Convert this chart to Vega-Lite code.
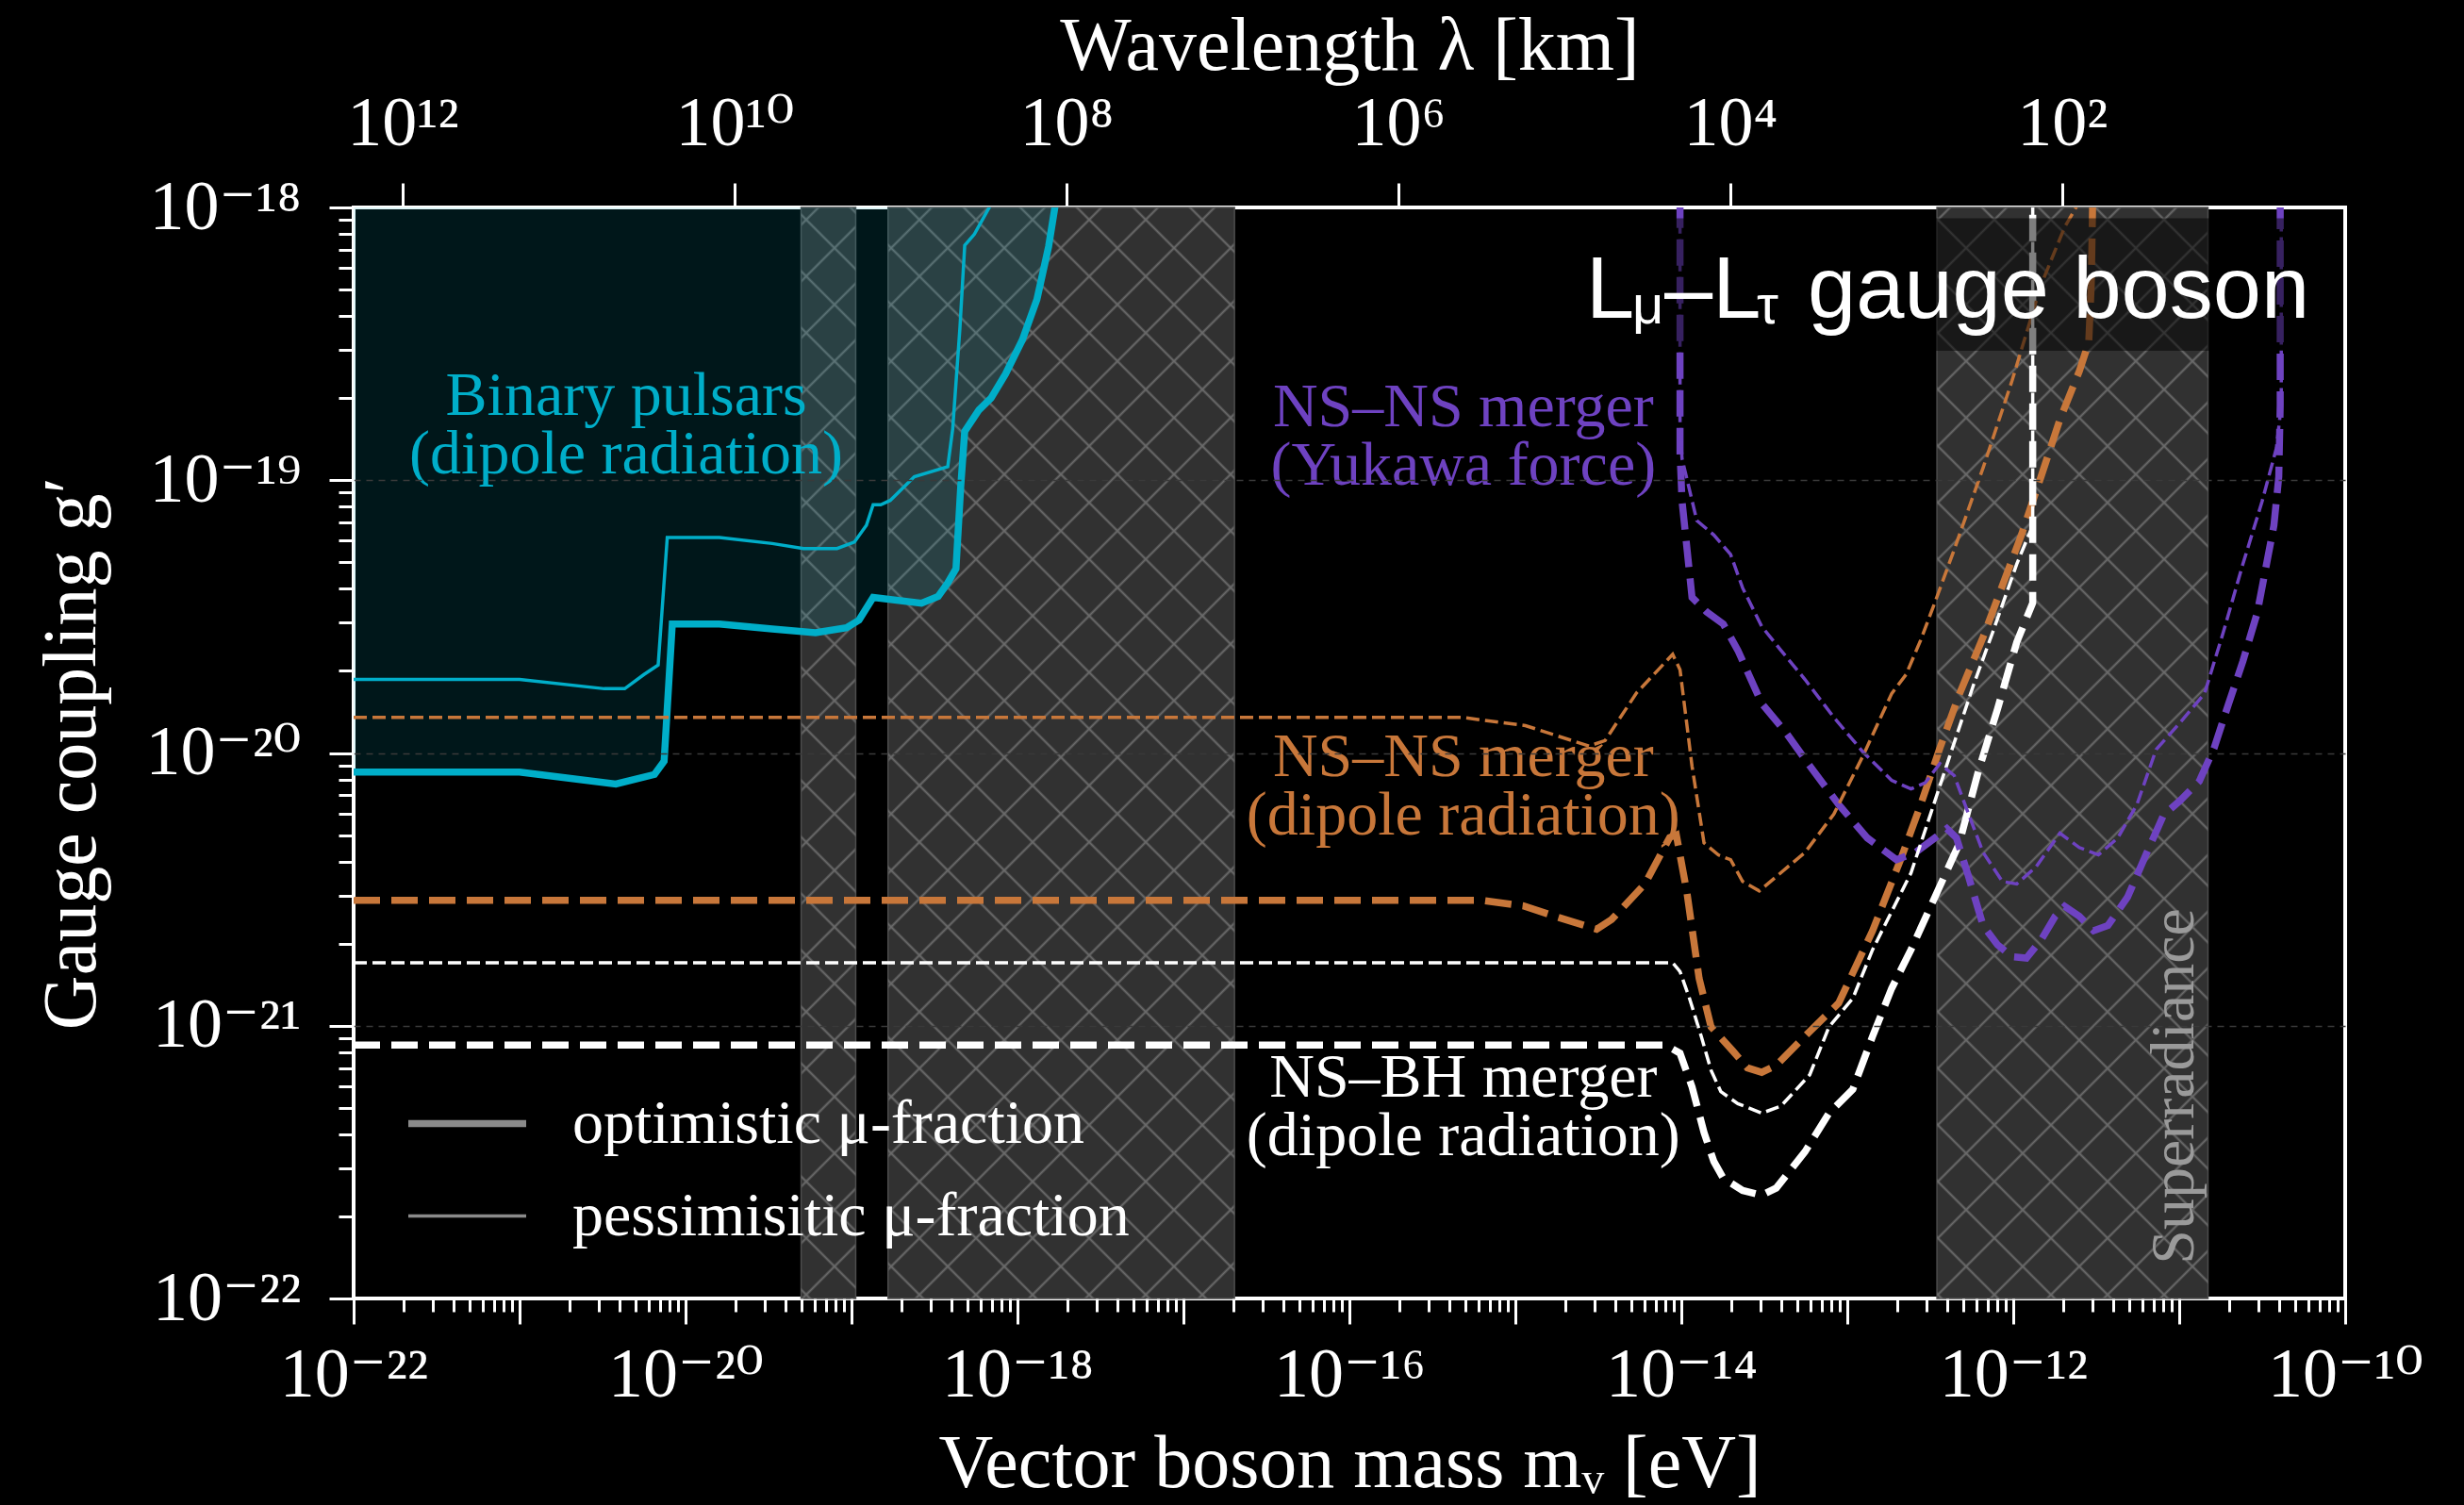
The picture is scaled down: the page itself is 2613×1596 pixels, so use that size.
{
  "$schema": "https://vega.github.io/schema/vega-lite/v6.json",
  "width": 2112,
  "height": 1157,
  "autosize": {"type": "none"},
  "padding": {"left": 375, "top": 220, "right": 126, "bottom": 219},
  "background": "#000000",
  "config": {
    "view": {"stroke": "#ffffff", "strokeWidth": 4},
    "axis": {"labelFont": "Liberation Serif, DejaVu Serif", "titleFont": "Liberation Serif", "labelColor": "#ffffff", "titleColor": "#ffffff", "tickColor": "#ffffff", "tickWidth": 3, "titleFontWeight": "normal", "domain": false, "gridColor": "#3a3a3a", "gridDash": [7, 6], "gridWidth": 1.5, "labelFlush": false, "labelOverlap": false, "labelFontSize": 74, "titleFontSize": 80},
    "legend": {"orient": "bottom-left", "offset": 54, "padding": 0, "labelFont": "Liberation Serif", "labelFontSize": 66, "labelColor": "#ffffff", "labelLimit": 2000, "symbolType": "stroke", "symbolSize": 15625, "symbolOffset": 0, "labelOffset": 45, "rowPadding": -100},
    "text": {"font": "Liberation Serif"}
  },
  "datasets": {
    "lines": [
      {"family": "pulsar", "fraction": "optimistic", "m": 1e-22, "g": 8.51e-21},
      {"family": "pulsar", "fraction": "optimistic", "m": 1e-21, "g": 8.51e-21},
      {"family": "pulsar", "fraction": "optimistic", "m": 3.80e-21, "g": 7.69e-21},
      {"family": "pulsar", "fraction": "optimistic", "m": 6.50e-21, "g": 8.34e-21},
      {"family": "pulsar", "fraction": "optimistic", "m": 7.43e-21, "g": 9.33e-21},
      {"family": "pulsar", "fraction": "optimistic", "m": 8.32e-21, "g": 2.97e-20},
      {"family": "pulsar", "fraction": "optimistic", "m": 1.60e-20, "g": 2.97e-20},
      {"family": "pulsar", "fraction": "optimistic", "m": 3.33e-20, "g": 2.85e-20},
      {"family": "pulsar", "fraction": "optimistic", "m": 6.07e-20, "g": 2.76e-20},
      {"family": "pulsar", "fraction": "optimistic", "m": 9.33e-20, "g": 2.88e-20},
      {"family": "pulsar", "fraction": "optimistic", "m": 1.11e-19, "g": 3.07e-20},
      {"family": "pulsar", "fraction": "optimistic", "m": 1.35e-19, "g": 3.72e-20},
      {"family": "pulsar", "fraction": "optimistic", "m": 2.64e-19, "g": 3.54e-20},
      {"family": "pulsar", "fraction": "optimistic", "m": 3.33e-19, "g": 3.75e-20},
      {"family": "pulsar", "fraction": "optimistic", "m": 3.80e-19, "g": 4.20e-20},
      {"family": "pulsar", "fraction": "optimistic", "m": 4.26e-19, "g": 4.74e-20},
      {"family": "pulsar", "fraction": "optimistic", "m": 4.55e-19, "g": 9.46e-20},
      {"family": "pulsar", "fraction": "optimistic", "m": 4.81e-19, "g": 1.51e-19},
      {"family": "pulsar", "fraction": "optimistic", "m": 5.86e-19, "g": 1.81e-19},
      {"family": "pulsar", "fraction": "optimistic", "m": 6.93e-19, "g": 2.00e-19},
      {"family": "pulsar", "fraction": "optimistic", "m": 8.47e-19, "g": 2.45e-19},
      {"family": "pulsar", "fraction": "optimistic", "m": 1.07e-18, "g": 3.27e-19},
      {"family": "pulsar", "fraction": "optimistic", "m": 1.31e-18, "g": 4.60e-19},
      {"family": "pulsar", "fraction": "optimistic", "m": 1.54e-18, "g": 7.19e-19},
      {"family": "pulsar", "fraction": "optimistic", "m": 1.68e-18, "g": 1.00e-18},
      {"family": "pulsar", "fraction": "optimistic", "m": 1.75e-18, "g": 1.10e-18},

      {"family": "pulsar", "fraction": "pessimistic", "m": 1e-22, "g": 1.86e-20},
      {"family": "pulsar", "fraction": "pessimistic", "m": 1e-21, "g": 1.86e-20},
      {"family": "pulsar", "fraction": "pessimistic", "m": 3.24e-21, "g": 1.72e-20},
      {"family": "pulsar", "fraction": "pessimistic", "m": 4.30e-21, "g": 1.72e-20},
      {"family": "pulsar", "fraction": "pessimistic", "m": 5.62e-21, "g": 1.94e-20},
      {"family": "pulsar", "fraction": "pessimistic", "m": 6.84e-21, "g": 2.10e-20},
      {"family": "pulsar", "fraction": "pessimistic", "m": 7.76e-21, "g": 6.17e-20},
      {"family": "pulsar", "fraction": "pessimistic", "m": 1.60e-20, "g": 6.17e-20},
      {"family": "pulsar", "fraction": "pessimistic", "m": 3.33e-20, "g": 5.86e-20},
      {"family": "pulsar", "fraction": "pessimistic", "m": 5.14e-20, "g": 5.62e-20},
      {"family": "pulsar", "fraction": "pessimistic", "m": 8.18e-20, "g": 5.62e-20},
      {"family": "pulsar", "fraction": "pessimistic", "m": 1.04e-19, "g": 5.93e-20},
      {"family": "pulsar", "fraction": "pessimistic", "m": 1.23e-19, "g": 6.84e-20},
      {"family": "pulsar", "fraction": "pessimistic", "m": 1.35e-19, "g": 8.13e-20},
      {"family": "pulsar", "fraction": "pessimistic", "m": 1.50e-19, "g": 8.13e-20},
      {"family": "pulsar", "fraction": "pessimistic", "m": 1.71e-19, "g": 8.43e-20},
      {"family": "pulsar", "fraction": "pessimistic", "m": 2.39e-19, "g": 1.03e-19},
      {"family": "pulsar", "fraction": "pessimistic", "m": 3.80e-19, "g": 1.12e-19},
      {"family": "pulsar", "fraction": "pessimistic", "m": 4.07e-19, "g": 1.54e-19},
      {"family": "pulsar", "fraction": "pessimistic", "m": 4.50e-19, "g": 3.61e-19},
      {"family": "pulsar", "fraction": "pessimistic", "m": 4.81e-19, "g": 7.26e-19},
      {"family": "pulsar", "fraction": "pessimistic", "m": 5.50e-19, "g": 7.98e-19},
      {"family": "pulsar", "fraction": "pessimistic", "m": 6.76e-19, "g": 1.00e-18},
      {"family": "pulsar", "fraction": "pessimistic", "m": 7.20e-19, "g": 1.10e-18},

      {"family": "nsns", "fraction": "optimistic", "m": 1e-22, "g": 2.88e-21},
      {"family": "nsns", "fraction": "optimistic", "m": 6.31e-16, "g": 2.88e-21},
      {"family": "nsns", "fraction": "optimistic", "m": 1.12e-15, "g": 2.75e-21},
      {"family": "nsns", "fraction": "optimistic", "m": 1.80e-15, "g": 2.50e-21},
      {"family": "nsns", "fraction": "optimistic", "m": 3.09e-15, "g": 2.26e-21},
      {"family": "nsns", "fraction": "optimistic", "m": 3.80e-15, "g": 2.45e-21},
      {"family": "nsns", "fraction": "optimistic", "m": 6.03e-15, "g": 3.31e-21},
      {"family": "nsns", "fraction": "optimistic", "m": 8.51e-15, "g": 4.90e-21},
      {"family": "nsns", "fraction": "optimistic", "m": 9.33e-15, "g": 5.01e-21},
      {"family": "nsns", "fraction": "optimistic", "m": 1.08e-14, "g": 3.09e-21},
      {"family": "nsns", "fraction": "optimistic", "m": 1.28e-14, "g": 1.49e-21},
      {"family": "nsns", "fraction": "optimistic", "m": 1.51e-14, "g": 9.91e-22},
      {"family": "nsns", "fraction": "optimistic", "m": 2.04e-14, "g": 8.09e-22},
      {"family": "nsns", "fraction": "optimistic", "m": 2.50e-14, "g": 7.01e-22},
      {"family": "nsns", "fraction": "optimistic", "m": 3.05e-14, "g": 6.75e-22},
      {"family": "nsns", "fraction": "optimistic", "m": 3.73e-14, "g": 7.16e-22},
      {"family": "nsns", "fraction": "optimistic", "m": 5.94e-14, "g": 9.53e-22},
      {"family": "nsns", "fraction": "optimistic", "m": 8.87e-14, "g": 1.21e-21},
      {"family": "nsns", "fraction": "optimistic", "m": 1.42e-13, "g": 2.23e-21},
      {"family": "nsns", "fraction": "optimistic", "m": 2.11e-13, "g": 4.11e-21},
      {"family": "nsns", "fraction": "optimistic", "m": 2.76e-13, "g": 6.43e-21},
      {"family": "nsns", "fraction": "optimistic", "m": 3.61e-13, "g": 1.04e-20},
      {"family": "nsns", "fraction": "optimistic", "m": 4.71e-13, "g": 1.63e-20},
      {"family": "nsns", "fraction": "optimistic", "m": 6.58e-13, "g": 2.66e-20},
      {"family": "nsns", "fraction": "optimistic", "m": 1.12e-12, "g": 6.30e-20},
      {"family": "nsns", "fraction": "optimistic", "m": 1.47e-12, "g": 1.03e-19},
      {"family": "nsns", "fraction": "optimistic", "m": 1.91e-12, "g": 1.67e-19},
      {"family": "nsns", "fraction": "optimistic", "m": 2.50e-12, "g": 2.51e-19},
      {"family": "nsns", "fraction": "optimistic", "m": 2.85e-12, "g": 3.20e-19},
      {"family": "nsns", "fraction": "optimistic", "m": 2.95e-12, "g": 5.20e-19},
      {"family": "nsns", "fraction": "optimistic", "m": 3.01e-12, "g": 1.05e-18},

      {"family": "nsns", "fraction": "pessimistic", "m": 1e-22, "g": 1.35e-20},
      {"family": "nsns", "fraction": "pessimistic", "m": 4.79e-16, "g": 1.35e-20},
      {"family": "nsns", "fraction": "pessimistic", "m": 1.15e-15, "g": 1.26e-20},
      {"family": "nsns", "fraction": "pessimistic", "m": 2.78e-15, "g": 1.06e-20},
      {"family": "nsns", "fraction": "pessimistic", "m": 3.47e-15, "g": 1.11e-20},
      {"family": "nsns", "fraction": "pessimistic", "m": 5.37e-15, "g": 1.66e-20},
      {"family": "nsns", "fraction": "pessimistic", "m": 8.87e-15, "g": 2.30e-20},
      {"family": "nsns", "fraction": "pessimistic", "m": 9.82e-15, "g": 2.02e-20},
      {"family": "nsns", "fraction": "pessimistic", "m": 1.16e-14, "g": 8.95e-21},
      {"family": "nsns", "fraction": "pessimistic", "m": 1.37e-14, "g": 4.68e-21},
      {"family": "nsns", "fraction": "pessimistic", "m": 1.67e-14, "g": 4.23e-21},
      {"family": "nsns", "fraction": "pessimistic", "m": 1.98e-14, "g": 4.06e-21},
      {"family": "nsns", "fraction": "pessimistic", "m": 2.34e-14, "g": 3.38e-21},
      {"family": "nsns", "fraction": "pessimistic", "m": 2.95e-14, "g": 3.12e-21},
      {"family": "nsns", "fraction": "pessimistic", "m": 3.73e-14, "g": 3.52e-21},
      {"family": "nsns", "fraction": "pessimistic", "m": 5.56e-14, "g": 4.32e-21},
      {"family": "nsns", "fraction": "pessimistic", "m": 8.30e-14, "g": 5.97e-21},
      {"family": "nsns", "fraction": "pessimistic", "m": 1.24e-13, "g": 9.73e-21},
      {"family": "nsns", "fraction": "pessimistic", "m": 1.85e-13, "g": 1.65e-20},
      {"family": "nsns", "fraction": "pessimistic", "m": 2.26e-13, "g": 1.94e-20},
      {"family": "nsns", "fraction": "pessimistic", "m": 2.76e-13, "g": 2.58e-20},
      {"family": "nsns", "fraction": "pessimistic", "m": 3.37e-13, "g": 3.56e-20},
      {"family": "nsns", "fraction": "pessimistic", "m": 4.41e-13, "g": 5.57e-20},
      {"family": "nsns", "fraction": "pessimistic", "m": 6.58e-13, "g": 1.11e-19},
      {"family": "nsns", "fraction": "pessimistic", "m": 9.82e-13, "g": 2.31e-19},
      {"family": "nsns", "fraction": "pessimistic", "m": 1.47e-12, "g": 5.20e-19},
      {"family": "nsns", "fraction": "pessimistic", "m": 2.04e-12, "g": 8.47e-19},
      {"family": "nsns", "fraction": "pessimistic", "m": 2.50e-12, "g": 1.05e-18},

      {"family": "nsbh", "fraction": "optimistic", "m": 1e-22, "g": 8.49e-22},
      {"family": "nsbh", "fraction": "optimistic", "m": 8.04e-15, "g": 8.49e-22},
      {"family": "nsbh", "fraction": "optimistic", "m": 9.82e-15, "g": 7.93e-22},
      {"family": "nsbh", "fraction": "optimistic", "m": 1.16e-14, "g": 5.97e-22},
      {"family": "nsbh", "fraction": "optimistic", "m": 1.37e-14, "g": 4.06e-22},
      {"family": "nsbh", "fraction": "optimistic", "m": 1.57e-14, "g": 3.18e-22},
      {"family": "nsbh", "fraction": "optimistic", "m": 1.79e-14, "g": 2.76e-22},
      {"family": "nsbh", "fraction": "optimistic", "m": 2.34e-14, "g": 2.49e-22},
      {"family": "nsbh", "fraction": "optimistic", "m": 3.05e-14, "g": 2.39e-22},
      {"family": "nsbh", "fraction": "optimistic", "m": 3.73e-14, "g": 2.54e-22},
      {"family": "nsbh", "fraction": "optimistic", "m": 5.56e-14, "g": 3.45e-22},
      {"family": "nsbh", "fraction": "optimistic", "m": 7.76e-14, "g": 4.78e-22},
      {"family": "nsbh", "fraction": "optimistic", "m": 1.08e-13, "g": 5.85e-22},
      {"family": "nsbh", "fraction": "optimistic", "m": 1.42e-13, "g": 9.14e-22},
      {"family": "nsbh", "fraction": "optimistic", "m": 1.85e-13, "g": 1.37e-21},
      {"family": "nsbh", "fraction": "optimistic", "m": 2.42e-13, "g": 1.90e-21},
      {"family": "nsbh", "fraction": "optimistic", "m": 3.37e-13, "g": 2.96e-21},
      {"family": "nsbh", "fraction": "optimistic", "m": 4.71e-13, "g": 4.63e-21},
      {"family": "nsbh", "fraction": "optimistic", "m": 6.15e-13, "g": 8.53e-21},
      {"family": "nsbh", "fraction": "optimistic", "m": 8.04e-13, "g": 1.45e-20},
      {"family": "nsbh", "fraction": "optimistic", "m": 1.05e-12, "g": 2.55e-20},
      {"family": "nsbh", "fraction": "optimistic", "m": 1.31e-12, "g": 3.55e-20},
      {"family": "nsbh", "fraction": "optimistic", "m": 1.31e-12, "g": 1.05e-18},

      {"family": "nsbh", "fraction": "pessimistic", "m": 1e-22, "g": 1.70e-21},
      {"family": "nsbh", "fraction": "pessimistic", "m": 8.87e-15, "g": 1.70e-21},
      {"family": "nsbh", "fraction": "pessimistic", "m": 9.82e-15, "g": 1.58e-21},
      {"family": "nsbh", "fraction": "pessimistic", "m": 1.12e-14, "g": 1.26e-21},
      {"family": "nsbh", "fraction": "pessimistic", "m": 1.32e-14, "g": 9.12e-22},
      {"family": "nsbh", "fraction": "pessimistic", "m": 1.51e-14, "g": 6.87e-22},
      {"family": "nsbh", "fraction": "pessimistic", "m": 1.73e-14, "g": 5.73e-22},
      {"family": "nsbh", "fraction": "pessimistic", "m": 2.19e-14, "g": 5.18e-22},
      {"family": "nsbh", "fraction": "pessimistic", "m": 3.05e-14, "g": 4.78e-22},
      {"family": "nsbh", "fraction": "pessimistic", "m": 3.98e-14, "g": 5.07e-22},
      {"family": "nsbh", "fraction": "pessimistic", "m": 5.94e-14, "g": 6.61e-22},
      {"family": "nsbh", "fraction": "pessimistic", "m": 7.76e-14, "g": 9.91e-22},
      {"family": "nsbh", "fraction": "pessimistic", "m": 1.08e-13, "g": 1.26e-21},
      {"family": "nsbh", "fraction": "pessimistic", "m": 1.42e-13, "g": 1.90e-21},
      {"family": "nsbh", "fraction": "pessimistic", "m": 1.85e-13, "g": 2.62e-21},
      {"family": "nsbh", "fraction": "pessimistic", "m": 2.42e-13, "g": 3.63e-21},
      {"family": "nsbh", "fraction": "pessimistic", "m": 3.16e-13, "g": 5.92e-21},
      {"family": "nsbh", "fraction": "pessimistic", "m": 4.12e-13, "g": 9.64e-21},
      {"family": "nsbh", "fraction": "pessimistic", "m": 5.75e-13, "g": 1.77e-20},
      {"family": "nsbh", "fraction": "pessimistic", "m": 7.52e-13, "g": 2.77e-20},
      {"family": "nsbh", "fraction": "pessimistic", "m": 1.05e-12, "g": 4.93e-20},
      {"family": "nsbh", "fraction": "pessimistic", "m": 1.31e-12, "g": 6.82e-20},
      {"family": "nsbh", "fraction": "pessimistic", "m": 1.31e-12, "g": 1.05e-18},

      {"family": "yukawa", "fraction": "optimistic", "m": 9.82e-15, "g": 1.05e-18},
      {"family": "yukawa", "fraction": "optimistic", "m": 9.82e-15, "g": 1.26e-19},
      {"family": "yukawa", "fraction": "optimistic", "m": 1.01e-14, "g": 8.38e-20},
      {"family": "yukawa", "fraction": "optimistic", "m": 1.16e-14, "g": 3.72e-20},
      {"family": "yukawa", "fraction": "optimistic", "m": 1.42e-14, "g": 3.29e-20},
      {"family": "yukawa", "fraction": "optimistic", "m": 1.79e-14, "g": 2.97e-20},
      {"family": "yukawa", "fraction": "optimistic", "m": 2.19e-14, "g": 2.38e-20},
      {"family": "yukawa", "fraction": "optimistic", "m": 3.05e-14, "g": 1.52e-20},
      {"family": "yukawa", "fraction": "optimistic", "m": 4.26e-14, "g": 1.19e-20},
      {"family": "yukawa", "fraction": "optimistic", "m": 5.94e-14, "g": 8.97e-21},
      {"family": "yukawa", "fraction": "optimistic", "m": 8.87e-14, "g": 6.47e-21},
      {"family": "yukawa", "fraction": "optimistic", "m": 1.32e-13, "g": 4.88e-21},
      {"family": "yukawa", "fraction": "optimistic", "m": 1.98e-13, "g": 4.06e-21},
      {"family": "yukawa", "fraction": "optimistic", "m": 2.58e-13, "g": 4.32e-21},
      {"family": "yukawa", "fraction": "optimistic", "m": 3.37e-13, "g": 4.88e-21},
      {"family": "yukawa", "fraction": "optimistic", "m": 3.98e-13, "g": 5.28e-21},
      {"family": "yukawa", "fraction": "optimistic", "m": 4.55e-13, "g": 4.88e-21},
      {"family": "yukawa", "fraction": "optimistic", "m": 5.38e-13, "g": 3.52e-21},
      {"family": "yukawa", "fraction": "optimistic", "m": 6.58e-13, "g": 2.33e-21},
      {"family": "yukawa", "fraction": "optimistic", "m": 8.04e-13, "g": 1.98e-21},
      {"family": "yukawa", "fraction": "optimistic", "m": 9.82e-13, "g": 1.79e-21},
      {"family": "yukawa", "fraction": "optimistic", "m": 1.20e-12, "g": 1.77e-21},
      {"family": "yukawa", "fraction": "optimistic", "m": 1.47e-12, "g": 2.06e-21},
      {"family": "yukawa", "fraction": "optimistic", "m": 1.79e-12, "g": 2.52e-21},
      {"family": "yukawa", "fraction": "optimistic", "m": 2.04e-12, "g": 2.74e-21},
      {"family": "yukawa", "fraction": "optimistic", "m": 2.50e-12, "g": 2.52e-21},
      {"family": "yukawa", "fraction": "optimistic", "m": 3.05e-12, "g": 2.23e-21},
      {"family": "yukawa", "fraction": "optimistic", "m": 3.72e-12, "g": 2.33e-21},
      {"family": "yukawa", "fraction": "optimistic", "m": 4.88e-12, "g": 2.96e-21},
      {"family": "yukawa", "fraction": "optimistic", "m": 6.35e-12, "g": 4.28e-21},
      {"family": "yukawa", "fraction": "optimistic", "m": 8.04e-12, "g": 5.92e-21},
      {"family": "yukawa", "fraction": "optimistic", "m": 1.01e-11, "g": 6.68e-21},
      {"family": "yukawa", "fraction": "optimistic", "m": 1.32e-11, "g": 7.87e-21},
      {"family": "yukawa", "fraction": "optimistic", "m": 1.62e-11, "g": 1.04e-20},
      {"family": "yukawa", "fraction": "optimistic", "m": 1.98e-11, "g": 1.51e-20},
      {"family": "yukawa", "fraction": "optimistic", "m": 2.42e-11, "g": 2.17e-20},
      {"family": "yukawa", "fraction": "optimistic", "m": 2.95e-11, "g": 3.26e-20},
      {"family": "yukawa", "fraction": "optimistic", "m": 3.72e-11, "g": 6.82e-20},
      {"family": "yukawa", "fraction": "optimistic", "m": 3.98e-11, "g": 1.03e-19},
      {"family": "yukawa", "fraction": "optimistic", "m": 4.06e-11, "g": 1.88e-19},
      {"family": "yukawa", "fraction": "optimistic", "m": 4.06e-11, "g": 1.05e-18},

      {"family": "yukawa", "fraction": "pessimistic", "m": 9.82e-15, "g": 1.05e-18},
      {"family": "yukawa", "fraction": "pessimistic", "m": 9.82e-15, "g": 1.58e-19},
      {"family": "yukawa", "fraction": "pessimistic", "m": 1.01e-14, "g": 1.20e-19},
      {"family": "yukawa", "fraction": "pessimistic", "m": 1.24e-14, "g": 7.11e-20},
      {"family": "yukawa", "fraction": "pessimistic", "m": 1.57e-14, "g": 6.30e-20},
      {"family": "yukawa", "fraction": "pessimistic", "m": 1.98e-14, "g": 5.35e-20},
      {"family": "yukawa", "fraction": "pessimistic", "m": 2.34e-14, "g": 4.03e-20},
      {"family": "yukawa", "fraction": "pessimistic", "m": 3.05e-14, "g": 2.91e-20},
      {"family": "yukawa", "fraction": "pessimistic", "m": 3.98e-14, "g": 2.38e-20},
      {"family": "yukawa", "fraction": "pessimistic", "m": 5.56e-14, "g": 1.86e-20},
      {"family": "yukawa", "fraction": "pessimistic", "m": 8.30e-14, "g": 1.35e-20},
      {"family": "yukawa", "fraction": "pessimistic", "m": 1.24e-13, "g": 1.01e-20},
      {"family": "yukawa", "fraction": "pessimistic", "m": 1.85e-13, "g": 7.94e-21},
      {"family": "yukawa", "fraction": "pessimistic", "m": 2.42e-13, "g": 7.38e-21},
      {"family": "yukawa", "fraction": "pessimistic", "m": 2.95e-13, "g": 7.78e-21},
      {"family": "yukawa", "fraction": "pessimistic", "m": 3.61e-13, "g": 9.14e-21},
      {"family": "yukawa", "fraction": "pessimistic", "m": 4.41e-13, "g": 8.26e-21},
      {"family": "yukawa", "fraction": "pessimistic", "m": 5.38e-13, "g": 5.97e-21},
      {"family": "yukawa", "fraction": "pessimistic", "m": 6.58e-13, "g": 4.32e-21},
      {"family": "yukawa", "fraction": "pessimistic", "m": 8.59e-13, "g": 3.38e-21},
      {"family": "yukawa", "fraction": "pessimistic", "m": 1.05e-12, "g": 3.31e-21},
      {"family": "yukawa", "fraction": "pessimistic", "m": 1.37e-12, "g": 3.82e-21},
      {"family": "yukawa", "fraction": "pessimistic", "m": 1.91e-12, "g": 5.08e-21},
      {"family": "yukawa", "fraction": "pessimistic", "m": 2.50e-12, "g": 4.50e-21},
      {"family": "yukawa", "fraction": "pessimistic", "m": 3.26e-12, "g": 4.23e-21},
      {"family": "yukawa", "fraction": "pessimistic", "m": 4.26e-12, "g": 4.88e-21},
      {"family": "yukawa", "fraction": "pessimistic", "m": 5.56e-12, "g": 6.47e-21},
      {"family": "yukawa", "fraction": "pessimistic", "m": 7.26e-12, "g": 1.03e-20},
      {"family": "yukawa", "fraction": "pessimistic", "m": 1.01e-11, "g": 1.29e-20},
      {"family": "yukawa", "fraction": "pessimistic", "m": 1.42e-11, "g": 1.65e-20},
      {"family": "yukawa", "fraction": "pessimistic", "m": 1.85e-11, "g": 2.79e-20},
      {"family": "yukawa", "fraction": "pessimistic", "m": 2.42e-11, "g": 4.93e-20},
      {"family": "yukawa", "fraction": "pessimistic", "m": 3.16e-11, "g": 8.38e-20},
      {"family": "yukawa", "fraction": "pessimistic", "m": 3.85e-11, "g": 1.31e-19},
      {"family": "yukawa", "fraction": "pessimistic", "m": 4.12e-11, "g": 1.88e-19},
      {"family": "yukawa", "fraction": "pessimistic", "m": 4.12e-11, "g": 1.05e-18}
    ],
    "bands": [
      {"band": 1, "m": 4.97e-20, "m2": 1.06e-19},
      {"band": 2, "m": 1.66e-19, "m2": 2.03e-17},
      {"band": 3, "m": 3.47e-13, "m2": 1.49e-11}
    ],
    "labels": [
      {"family": "pulsar", "m": 4.39e-21, "g": 1.73e-19, "label": "Binary pulsars\n(dipole radiation)"},
      {"family": "yukawa", "m": 4.86e-16, "g": 1.58e-19, "label": "NS–NS merger\n(Yukawa force)"},
      {"family": "nsns", "m": 4.86e-16, "g": 8.22e-21, "label": "NS–NS merger\n(dipole radiation)"},
      {"family": "nsbh", "m": 4.86e-16, "g": 5.50e-22, "label": "NS–BH merger\n(dipole radiation)"}
    ],
    "superradiance": [{"m": 9.38e-12, "g": 6.0e-22, "label": "Superradiance"}],
    "titlebox": [{"m": 2.24e-15, "m2": 7.08e-11, "g": 9.12e-19, "g2": 2.98e-19}],
    "title": [{"m": 2.67e-15, "g": 3.95e-19}]
  },
  "layer": [
    {
      "data": {"name": "bands"},
      "transform": [{"filter": "datum.band == 1"}],
      "mark": {"type": "rect", "stroke": "#4d4d4d", "strokeWidth": 1.5, "fill": {"gradient": "linear", "x1": 0, "y1": 0, "x2": 0.05242, "y2": 1.04742, "stops": [
        {"offset": 0, "color": "#313131"},
        {"offset": 0.01268, "color": "#313131"}, {"offset": 0.01515, "color": "#6a6a6a"}, {"offset": 0.01762, "color": "#313131"},
        {"offset": 0.06206, "color": "#313131"}, {"offset": 0.06453, "color": "#6a6a6a"}, {"offset": 0.06700, "color": "#313131"},
        {"offset": 0.11145, "color": "#313131"}, {"offset": 0.11392, "color": "#6a6a6a"}, {"offset": 0.11639, "color": "#313131"},
        {"offset": 0.16084, "color": "#313131"}, {"offset": 0.16331, "color": "#6a6a6a"}, {"offset": 0.16578, "color": "#313131"},
        {"offset": 0.21022, "color": "#313131"}, {"offset": 0.21269, "color": "#6a6a6a"}, {"offset": 0.21516, "color": "#313131"},
        {"offset": 0.25961, "color": "#313131"}, {"offset": 0.26208, "color": "#6a6a6a"}, {"offset": 0.26455, "color": "#313131"},
        {"offset": 0.30900, "color": "#313131"}, {"offset": 0.31147, "color": "#6a6a6a"}, {"offset": 0.31394, "color": "#313131"},
        {"offset": 0.35838, "color": "#313131"}, {"offset": 0.36085, "color": "#6a6a6a"}, {"offset": 0.36332, "color": "#313131"},
        {"offset": 0.40777, "color": "#313131"}, {"offset": 0.41024, "color": "#6a6a6a"}, {"offset": 0.41271, "color": "#313131"},
        {"offset": 0.45716, "color": "#313131"}, {"offset": 0.45963, "color": "#6a6a6a"}, {"offset": 0.46210, "color": "#313131"},
        {"offset": 0.50654, "color": "#313131"}, {"offset": 0.50901, "color": "#6a6a6a"}, {"offset": 0.51148, "color": "#313131"},
        {"offset": 0.55593, "color": "#313131"}, {"offset": 0.55840, "color": "#6a6a6a"}, {"offset": 0.56087, "color": "#313131"},
        {"offset": 0.60532, "color": "#313131"}, {"offset": 0.60779, "color": "#6a6a6a"}, {"offset": 0.61026, "color": "#313131"},
        {"offset": 0.65470, "color": "#313131"}, {"offset": 0.65717, "color": "#6a6a6a"}, {"offset": 0.65964, "color": "#313131"},
        {"offset": 0.70409, "color": "#313131"}, {"offset": 0.70656, "color": "#6a6a6a"}, {"offset": 0.70903, "color": "#313131"},
        {"offset": 0.75348, "color": "#313131"}, {"offset": 0.75595, "color": "#6a6a6a"}, {"offset": 0.75842, "color": "#313131"},
        {"offset": 0.80286, "color": "#313131"}, {"offset": 0.80533, "color": "#6a6a6a"}, {"offset": 0.80780, "color": "#313131"},
        {"offset": 0.85225, "color": "#313131"}, {"offset": 0.85472, "color": "#6a6a6a"}, {"offset": 0.85719, "color": "#313131"},
        {"offset": 0.90164, "color": "#313131"}, {"offset": 0.90411, "color": "#6a6a6a"}, {"offset": 0.90658, "color": "#313131"},
        {"offset": 0.95102, "color": "#313131"}, {"offset": 0.95349, "color": "#6a6a6a"}, {"offset": 0.95596, "color": "#313131"},
        {"offset": 1, "color": "#313131"}]}},
      "encoding": {"x": {"field": "m", "type": "quantitative", "scale": {"type": "log", "domain": [1e-22, 1e-10], "nice": false}, "axis": null}, "x2": {"field": "m2"}}
    },
    {
      "data": {"name": "bands"},
      "transform": [{"filter": "datum.band == 1"}],
      "mark": {"type": "rect", "fill": {"gradient": "linear", "x1": 1, "y1": 0, "x2": 0.94758, "y2": 1.04742, "stops": [
        {"offset": 0, "color": "rgba(106,106,106,0)"},
        {"offset": 0.00206, "color": "rgba(106,106,106,0)"}, {"offset": 0.00453, "color": "#6a6a6a"}, {"offset": 0.00700, "color": "rgba(106,106,106,0)"},
        {"offset": 0.05144, "color": "rgba(106,106,106,0)"}, {"offset": 0.05391, "color": "#6a6a6a"}, {"offset": 0.05638, "color": "rgba(106,106,106,0)"},
        {"offset": 0.10083, "color": "rgba(106,106,106,0)"}, {"offset": 0.10330, "color": "#6a6a6a"}, {"offset": 0.10577, "color": "rgba(106,106,106,0)"},
        {"offset": 0.15022, "color": "rgba(106,106,106,0)"}, {"offset": 0.15269, "color": "#6a6a6a"}, {"offset": 0.15516, "color": "rgba(106,106,106,0)"},
        {"offset": 0.19960, "color": "rgba(106,106,106,0)"}, {"offset": 0.20207, "color": "#6a6a6a"}, {"offset": 0.20454, "color": "rgba(106,106,106,0)"},
        {"offset": 0.24899, "color": "rgba(106,106,106,0)"}, {"offset": 0.25146, "color": "#6a6a6a"}, {"offset": 0.25393, "color": "rgba(106,106,106,0)"},
        {"offset": 0.29838, "color": "rgba(106,106,106,0)"}, {"offset": 0.30085, "color": "#6a6a6a"}, {"offset": 0.30332, "color": "rgba(106,106,106,0)"},
        {"offset": 0.34776, "color": "rgba(106,106,106,0)"}, {"offset": 0.35023, "color": "#6a6a6a"}, {"offset": 0.35270, "color": "rgba(106,106,106,0)"},
        {"offset": 0.39715, "color": "rgba(106,106,106,0)"}, {"offset": 0.39962, "color": "#6a6a6a"}, {"offset": 0.40209, "color": "rgba(106,106,106,0)"},
        {"offset": 0.44654, "color": "rgba(106,106,106,0)"}, {"offset": 0.44901, "color": "#6a6a6a"}, {"offset": 0.45148, "color": "rgba(106,106,106,0)"},
        {"offset": 0.49592, "color": "rgba(106,106,106,0)"}, {"offset": 0.49839, "color": "#6a6a6a"}, {"offset": 0.50086, "color": "rgba(106,106,106,0)"},
        {"offset": 0.54531, "color": "rgba(106,106,106,0)"}, {"offset": 0.54778, "color": "#6a6a6a"}, {"offset": 0.55025, "color": "rgba(106,106,106,0)"},
        {"offset": 0.59470, "color": "rgba(106,106,106,0)"}, {"offset": 0.59717, "color": "#6a6a6a"}, {"offset": 0.59964, "color": "rgba(106,106,106,0)"},
        {"offset": 0.64408, "color": "rgba(106,106,106,0)"}, {"offset": 0.64655, "color": "#6a6a6a"}, {"offset": 0.64902, "color": "rgba(106,106,106,0)"},
        {"offset": 0.69347, "color": "rgba(106,106,106,0)"}, {"offset": 0.69594, "color": "#6a6a6a"}, {"offset": 0.69841, "color": "rgba(106,106,106,0)"},
        {"offset": 0.74286, "color": "rgba(106,106,106,0)"}, {"offset": 0.74533, "color": "#6a6a6a"}, {"offset": 0.74780, "color": "rgba(106,106,106,0)"},
        {"offset": 0.79224, "color": "rgba(106,106,106,0)"}, {"offset": 0.79471, "color": "#6a6a6a"}, {"offset": 0.79718, "color": "rgba(106,106,106,0)"},
        {"offset": 0.84163, "color": "rgba(106,106,106,0)"}, {"offset": 0.84410, "color": "#6a6a6a"}, {"offset": 0.84657, "color": "rgba(106,106,106,0)"},
        {"offset": 0.89102, "color": "rgba(106,106,106,0)"}, {"offset": 0.89349, "color": "#6a6a6a"}, {"offset": 0.89596, "color": "rgba(106,106,106,0)"},
        {"offset": 0.94040, "color": "rgba(106,106,106,0)"}, {"offset": 0.94287, "color": "#6a6a6a"}, {"offset": 0.94534, "color": "rgba(106,106,106,0)"},
        {"offset": 0.98979, "color": "rgba(106,106,106,0)"}, {"offset": 0.99226, "color": "#6a6a6a"}, {"offset": 0.99473, "color": "rgba(106,106,106,0)"},
        {"offset": 1, "color": "rgba(106,106,106,0)"}]}},
      "encoding": {"x": {"field": "m", "type": "quantitative", "scale": {"type": "log", "domain": [1e-22, 1e-10], "nice": false}, "axis": null}, "x2": {"field": "m2"}}
    },
    {
      "data": {"name": "bands"},
      "transform": [{"filter": "datum.band == 2"}],
      "mark": {"type": "rect", "stroke": "#4d4d4d", "strokeWidth": 1.5, "fill": {"gradient": "linear", "x1": 0, "y1": 0, "x2": 0.38006, "y2": 1.19686, "stops": [
        {"offset": 0, "color": "#313131"},
        {"offset": 0.02840, "color": "#313131"}, {"offset": 0.03037, "color": "#6a6a6a"}, {"offset": 0.03234, "color": "#313131"},
        {"offset": 0.06776, "color": "#313131"}, {"offset": 0.06973, "color": "#6a6a6a"}, {"offset": 0.07170, "color": "#313131"},
        {"offset": 0.10712, "color": "#313131"}, {"offset": 0.10909, "color": "#6a6a6a"}, {"offset": 0.11106, "color": "#313131"},
        {"offset": 0.14648, "color": "#313131"}, {"offset": 0.14845, "color": "#6a6a6a"}, {"offset": 0.15042, "color": "#313131"},
        {"offset": 0.18584, "color": "#313131"}, {"offset": 0.18781, "color": "#6a6a6a"}, {"offset": 0.18978, "color": "#313131"},
        {"offset": 0.22520, "color": "#313131"}, {"offset": 0.22717, "color": "#6a6a6a"}, {"offset": 0.22914, "color": "#313131"},
        {"offset": 0.26456, "color": "#313131"}, {"offset": 0.26653, "color": "#6a6a6a"}, {"offset": 0.26850, "color": "#313131"},
        {"offset": 0.30392, "color": "#313131"}, {"offset": 0.30589, "color": "#6a6a6a"}, {"offset": 0.30786, "color": "#313131"},
        {"offset": 0.34328, "color": "#313131"}, {"offset": 0.34525, "color": "#6a6a6a"}, {"offset": 0.34722, "color": "#313131"},
        {"offset": 0.38264, "color": "#313131"}, {"offset": 0.38461, "color": "#6a6a6a"}, {"offset": 0.38658, "color": "#313131"},
        {"offset": 0.42200, "color": "#313131"}, {"offset": 0.42397, "color": "#6a6a6a"}, {"offset": 0.42594, "color": "#313131"},
        {"offset": 0.46136, "color": "#313131"}, {"offset": 0.46333, "color": "#6a6a6a"}, {"offset": 0.46530, "color": "#313131"},
        {"offset": 0.50072, "color": "#313131"}, {"offset": 0.50269, "color": "#6a6a6a"}, {"offset": 0.50466, "color": "#313131"},
        {"offset": 0.54008, "color": "#313131"}, {"offset": 0.54205, "color": "#6a6a6a"}, {"offset": 0.54402, "color": "#313131"},
        {"offset": 0.57944, "color": "#313131"}, {"offset": 0.58141, "color": "#6a6a6a"}, {"offset": 0.58338, "color": "#313131"},
        {"offset": 0.61880, "color": "#313131"}, {"offset": 0.62077, "color": "#6a6a6a"}, {"offset": 0.62274, "color": "#313131"},
        {"offset": 0.65816, "color": "#313131"}, {"offset": 0.66013, "color": "#6a6a6a"}, {"offset": 0.66210, "color": "#313131"},
        {"offset": 0.69752, "color": "#313131"}, {"offset": 0.69949, "color": "#6a6a6a"}, {"offset": 0.70146, "color": "#313131"},
        {"offset": 0.73688, "color": "#313131"}, {"offset": 0.73885, "color": "#6a6a6a"}, {"offset": 0.74082, "color": "#313131"},
        {"offset": 0.77624, "color": "#313131"}, {"offset": 0.77821, "color": "#6a6a6a"}, {"offset": 0.78018, "color": "#313131"},
        {"offset": 0.81560, "color": "#313131"}, {"offset": 0.81757, "color": "#6a6a6a"}, {"offset": 0.81954, "color": "#313131"},
        {"offset": 0.85496, "color": "#313131"}, {"offset": 0.85693, "color": "#6a6a6a"}, {"offset": 0.85890, "color": "#313131"},
        {"offset": 0.89432, "color": "#313131"}, {"offset": 0.89629, "color": "#6a6a6a"}, {"offset": 0.89826, "color": "#313131"},
        {"offset": 0.93368, "color": "#313131"}, {"offset": 0.93565, "color": "#6a6a6a"}, {"offset": 0.93762, "color": "#313131"},
        {"offset": 0.97304, "color": "#313131"}, {"offset": 0.97501, "color": "#6a6a6a"}, {"offset": 0.97698, "color": "#313131"},
        {"offset": 1, "color": "#313131"}]}},
      "encoding": {"x": {"field": "m", "type": "quantitative", "scale": {"type": "log", "domain": [1e-22, 1e-10], "nice": false}, "axis": null}, "x2": {"field": "m2"}}
    },
    {
      "data": {"name": "bands"},
      "transform": [{"filter": "datum.band == 2"}],
      "mark": {"type": "rect", "fill": {"gradient": "linear", "x1": 1, "y1": 0, "x2": 0.61994, "y2": 1.19686, "stops": [
        {"offset": 0, "color": "rgba(106,106,106,0)"},
        {"offset": 0.02893, "color": "rgba(106,106,106,0)"}, {"offset": 0.03090, "color": "#6a6a6a"}, {"offset": 0.03287, "color": "rgba(106,106,106,0)"},
        {"offset": 0.06829, "color": "rgba(106,106,106,0)"}, {"offset": 0.07026, "color": "#6a6a6a"}, {"offset": 0.07223, "color": "rgba(106,106,106,0)"},
        {"offset": 0.10765, "color": "rgba(106,106,106,0)"}, {"offset": 0.10962, "color": "#6a6a6a"}, {"offset": 0.11159, "color": "rgba(106,106,106,0)"},
        {"offset": 0.14701, "color": "rgba(106,106,106,0)"}, {"offset": 0.14898, "color": "#6a6a6a"}, {"offset": 0.15095, "color": "rgba(106,106,106,0)"},
        {"offset": 0.18637, "color": "rgba(106,106,106,0)"}, {"offset": 0.18834, "color": "#6a6a6a"}, {"offset": 0.19031, "color": "rgba(106,106,106,0)"},
        {"offset": 0.22573, "color": "rgba(106,106,106,0)"}, {"offset": 0.22770, "color": "#6a6a6a"}, {"offset": 0.22967, "color": "rgba(106,106,106,0)"},
        {"offset": 0.26509, "color": "rgba(106,106,106,0)"}, {"offset": 0.26706, "color": "#6a6a6a"}, {"offset": 0.26903, "color": "rgba(106,106,106,0)"},
        {"offset": 0.30445, "color": "rgba(106,106,106,0)"}, {"offset": 0.30642, "color": "#6a6a6a"}, {"offset": 0.30839, "color": "rgba(106,106,106,0)"},
        {"offset": 0.34381, "color": "rgba(106,106,106,0)"}, {"offset": 0.34578, "color": "#6a6a6a"}, {"offset": 0.34775, "color": "rgba(106,106,106,0)"},
        {"offset": 0.38317, "color": "rgba(106,106,106,0)"}, {"offset": 0.38514, "color": "#6a6a6a"}, {"offset": 0.38711, "color": "rgba(106,106,106,0)"},
        {"offset": 0.42253, "color": "rgba(106,106,106,0)"}, {"offset": 0.42450, "color": "#6a6a6a"}, {"offset": 0.42647, "color": "rgba(106,106,106,0)"},
        {"offset": 0.46189, "color": "rgba(106,106,106,0)"}, {"offset": 0.46386, "color": "#6a6a6a"}, {"offset": 0.46583, "color": "rgba(106,106,106,0)"},
        {"offset": 0.50125, "color": "rgba(106,106,106,0)"}, {"offset": 0.50322, "color": "#6a6a6a"}, {"offset": 0.50519, "color": "rgba(106,106,106,0)"},
        {"offset": 0.54061, "color": "rgba(106,106,106,0)"}, {"offset": 0.54258, "color": "#6a6a6a"}, {"offset": 0.54455, "color": "rgba(106,106,106,0)"},
        {"offset": 0.57997, "color": "rgba(106,106,106,0)"}, {"offset": 0.58194, "color": "#6a6a6a"}, {"offset": 0.58391, "color": "rgba(106,106,106,0)"},
        {"offset": 0.61933, "color": "rgba(106,106,106,0)"}, {"offset": 0.62130, "color": "#6a6a6a"}, {"offset": 0.62327, "color": "rgba(106,106,106,0)"},
        {"offset": 0.65869, "color": "rgba(106,106,106,0)"}, {"offset": 0.66066, "color": "#6a6a6a"}, {"offset": 0.66263, "color": "rgba(106,106,106,0)"},
        {"offset": 0.69805, "color": "rgba(106,106,106,0)"}, {"offset": 0.70002, "color": "#6a6a6a"}, {"offset": 0.70199, "color": "rgba(106,106,106,0)"},
        {"offset": 0.73741, "color": "rgba(106,106,106,0)"}, {"offset": 0.73938, "color": "#6a6a6a"}, {"offset": 0.74135, "color": "rgba(106,106,106,0)"},
        {"offset": 0.77677, "color": "rgba(106,106,106,0)"}, {"offset": 0.77874, "color": "#6a6a6a"}, {"offset": 0.78071, "color": "rgba(106,106,106,0)"},
        {"offset": 0.81613, "color": "rgba(106,106,106,0)"}, {"offset": 0.81810, "color": "#6a6a6a"}, {"offset": 0.82007, "color": "rgba(106,106,106,0)"},
        {"offset": 0.85549, "color": "rgba(106,106,106,0)"}, {"offset": 0.85746, "color": "#6a6a6a"}, {"offset": 0.85943, "color": "rgba(106,106,106,0)"},
        {"offset": 0.89485, "color": "rgba(106,106,106,0)"}, {"offset": 0.89682, "color": "#6a6a6a"}, {"offset": 0.89879, "color": "rgba(106,106,106,0)"},
        {"offset": 0.93421, "color": "rgba(106,106,106,0)"}, {"offset": 0.93618, "color": "#6a6a6a"}, {"offset": 0.93815, "color": "rgba(106,106,106,0)"},
        {"offset": 0.97357, "color": "rgba(106,106,106,0)"}, {"offset": 0.97554, "color": "#6a6a6a"}, {"offset": 0.97751, "color": "rgba(106,106,106,0)"},
        {"offset": 1, "color": "rgba(106,106,106,0)"}]}},
      "encoding": {"x": {"field": "m", "type": "quantitative", "scale": {"type": "log", "domain": [1e-22, 1e-10], "nice": false}, "axis": null}, "x2": {"field": "m2"}}
    },
    {
      "data": {"name": "bands"},
      "transform": [{"filter": "datum.band == 3"}],
      "mark": {"type": "rect", "stroke": "#4d4d4d", "strokeWidth": 1.5, "fill": {"gradient": "linear", "x1": 0, "y1": 0, "x2": 0.29208, "y2": 1.17585, "stops": [
        {"offset": 0, "color": "#313131"},
        {"offset": 0.00754, "color": "#313131"}, {"offset": 0.00962, "color": "#6a6a6a"}, {"offset": 0.01170, "color": "#313131"},
        {"offset": 0.04908, "color": "#313131"}, {"offset": 0.05116, "color": "#6a6a6a"}, {"offset": 0.05324, "color": "#313131"},
        {"offset": 0.09062, "color": "#313131"}, {"offset": 0.09270, "color": "#6a6a6a"}, {"offset": 0.09478, "color": "#313131"},
        {"offset": 0.13216, "color": "#313131"}, {"offset": 0.13424, "color": "#6a6a6a"}, {"offset": 0.13632, "color": "#313131"},
        {"offset": 0.17370, "color": "#313131"}, {"offset": 0.17578, "color": "#6a6a6a"}, {"offset": 0.17786, "color": "#313131"},
        {"offset": 0.21524, "color": "#313131"}, {"offset": 0.21732, "color": "#6a6a6a"}, {"offset": 0.21940, "color": "#313131"},
        {"offset": 0.25678, "color": "#313131"}, {"offset": 0.25886, "color": "#6a6a6a"}, {"offset": 0.26094, "color": "#313131"},
        {"offset": 0.29832, "color": "#313131"}, {"offset": 0.30040, "color": "#6a6a6a"}, {"offset": 0.30248, "color": "#313131"},
        {"offset": 0.33986, "color": "#313131"}, {"offset": 0.34194, "color": "#6a6a6a"}, {"offset": 0.34402, "color": "#313131"},
        {"offset": 0.38140, "color": "#313131"}, {"offset": 0.38348, "color": "#6a6a6a"}, {"offset": 0.38556, "color": "#313131"},
        {"offset": 0.42294, "color": "#313131"}, {"offset": 0.42502, "color": "#6a6a6a"}, {"offset": 0.42710, "color": "#313131"},
        {"offset": 0.46448, "color": "#313131"}, {"offset": 0.46656, "color": "#6a6a6a"}, {"offset": 0.46864, "color": "#313131"},
        {"offset": 0.50602, "color": "#313131"}, {"offset": 0.50810, "color": "#6a6a6a"}, {"offset": 0.51018, "color": "#313131"},
        {"offset": 0.54756, "color": "#313131"}, {"offset": 0.54964, "color": "#6a6a6a"}, {"offset": 0.55172, "color": "#313131"},
        {"offset": 0.58910, "color": "#313131"}, {"offset": 0.59118, "color": "#6a6a6a"}, {"offset": 0.59326, "color": "#313131"},
        {"offset": 0.63064, "color": "#313131"}, {"offset": 0.63272, "color": "#6a6a6a"}, {"offset": 0.63480, "color": "#313131"},
        {"offset": 0.67218, "color": "#313131"}, {"offset": 0.67426, "color": "#6a6a6a"}, {"offset": 0.67634, "color": "#313131"},
        {"offset": 0.71372, "color": "#313131"}, {"offset": 0.71580, "color": "#6a6a6a"}, {"offset": 0.71788, "color": "#313131"},
        {"offset": 0.75526, "color": "#313131"}, {"offset": 0.75734, "color": "#6a6a6a"}, {"offset": 0.75942, "color": "#313131"},
        {"offset": 0.79680, "color": "#313131"}, {"offset": 0.79888, "color": "#6a6a6a"}, {"offset": 0.80096, "color": "#313131"},
        {"offset": 0.83834, "color": "#313131"}, {"offset": 0.84042, "color": "#6a6a6a"}, {"offset": 0.84250, "color": "#313131"},
        {"offset": 0.87988, "color": "#313131"}, {"offset": 0.88196, "color": "#6a6a6a"}, {"offset": 0.88404, "color": "#313131"},
        {"offset": 0.92142, "color": "#313131"}, {"offset": 0.92350, "color": "#6a6a6a"}, {"offset": 0.92558, "color": "#313131"},
        {"offset": 0.96296, "color": "#313131"}, {"offset": 0.96504, "color": "#6a6a6a"}, {"offset": 0.96712, "color": "#313131"},
        {"offset": 1, "color": "#313131"}]}},
      "encoding": {"x": {"field": "m", "type": "quantitative", "scale": {"type": "log", "domain": [1e-22, 1e-10], "nice": false}, "axis": null}, "x2": {"field": "m2"}}
    },
    {
      "data": {"name": "bands"},
      "transform": [{"filter": "datum.band == 3"}],
      "mark": {"type": "rect", "fill": {"gradient": "linear", "x1": 1, "y1": 0, "x2": 0.70792, "y2": 1.17585, "stops": [
        {"offset": 0, "color": "rgba(106,106,106,0)"},
        {"offset": 0.03911, "color": "rgba(106,106,106,0)"}, {"offset": 0.04119, "color": "#6a6a6a"}, {"offset": 0.04327, "color": "rgba(106,106,106,0)"},
        {"offset": 0.08065, "color": "rgba(106,106,106,0)"}, {"offset": 0.08273, "color": "#6a6a6a"}, {"offset": 0.08481, "color": "rgba(106,106,106,0)"},
        {"offset": 0.12219, "color": "rgba(106,106,106,0)"}, {"offset": 0.12427, "color": "#6a6a6a"}, {"offset": 0.12635, "color": "rgba(106,106,106,0)"},
        {"offset": 0.16373, "color": "rgba(106,106,106,0)"}, {"offset": 0.16581, "color": "#6a6a6a"}, {"offset": 0.16789, "color": "rgba(106,106,106,0)"},
        {"offset": 0.20527, "color": "rgba(106,106,106,0)"}, {"offset": 0.20735, "color": "#6a6a6a"}, {"offset": 0.20943, "color": "rgba(106,106,106,0)"},
        {"offset": 0.24681, "color": "rgba(106,106,106,0)"}, {"offset": 0.24889, "color": "#6a6a6a"}, {"offset": 0.25097, "color": "rgba(106,106,106,0)"},
        {"offset": 0.28835, "color": "rgba(106,106,106,0)"}, {"offset": 0.29043, "color": "#6a6a6a"}, {"offset": 0.29251, "color": "rgba(106,106,106,0)"},
        {"offset": 0.32989, "color": "rgba(106,106,106,0)"}, {"offset": 0.33197, "color": "#6a6a6a"}, {"offset": 0.33405, "color": "rgba(106,106,106,0)"},
        {"offset": 0.37143, "color": "rgba(106,106,106,0)"}, {"offset": 0.37351, "color": "#6a6a6a"}, {"offset": 0.37559, "color": "rgba(106,106,106,0)"},
        {"offset": 0.41297, "color": "rgba(106,106,106,0)"}, {"offset": 0.41505, "color": "#6a6a6a"}, {"offset": 0.41713, "color": "rgba(106,106,106,0)"},
        {"offset": 0.45451, "color": "rgba(106,106,106,0)"}, {"offset": 0.45659, "color": "#6a6a6a"}, {"offset": 0.45867, "color": "rgba(106,106,106,0)"},
        {"offset": 0.49605, "color": "rgba(106,106,106,0)"}, {"offset": 0.49813, "color": "#6a6a6a"}, {"offset": 0.50021, "color": "rgba(106,106,106,0)"},
        {"offset": 0.53759, "color": "rgba(106,106,106,0)"}, {"offset": 0.53967, "color": "#6a6a6a"}, {"offset": 0.54175, "color": "rgba(106,106,106,0)"},
        {"offset": 0.57913, "color": "rgba(106,106,106,0)"}, {"offset": 0.58121, "color": "#6a6a6a"}, {"offset": 0.58329, "color": "rgba(106,106,106,0)"},
        {"offset": 0.62067, "color": "rgba(106,106,106,0)"}, {"offset": 0.62275, "color": "#6a6a6a"}, {"offset": 0.62483, "color": "rgba(106,106,106,0)"},
        {"offset": 0.66221, "color": "rgba(106,106,106,0)"}, {"offset": 0.66429, "color": "#6a6a6a"}, {"offset": 0.66637, "color": "rgba(106,106,106,0)"},
        {"offset": 0.70375, "color": "rgba(106,106,106,0)"}, {"offset": 0.70583, "color": "#6a6a6a"}, {"offset": 0.70791, "color": "rgba(106,106,106,0)"},
        {"offset": 0.74529, "color": "rgba(106,106,106,0)"}, {"offset": 0.74737, "color": "#6a6a6a"}, {"offset": 0.74945, "color": "rgba(106,106,106,0)"},
        {"offset": 0.78683, "color": "rgba(106,106,106,0)"}, {"offset": 0.78891, "color": "#6a6a6a"}, {"offset": 0.79099, "color": "rgba(106,106,106,0)"},
        {"offset": 0.82837, "color": "rgba(106,106,106,0)"}, {"offset": 0.83045, "color": "#6a6a6a"}, {"offset": 0.83253, "color": "rgba(106,106,106,0)"},
        {"offset": 0.86991, "color": "rgba(106,106,106,0)"}, {"offset": 0.87199, "color": "#6a6a6a"}, {"offset": 0.87407, "color": "rgba(106,106,106,0)"},
        {"offset": 0.91145, "color": "rgba(106,106,106,0)"}, {"offset": 0.91353, "color": "#6a6a6a"}, {"offset": 0.91561, "color": "rgba(106,106,106,0)"},
        {"offset": 0.95299, "color": "rgba(106,106,106,0)"}, {"offset": 0.95507, "color": "#6a6a6a"}, {"offset": 0.95715, "color": "rgba(106,106,106,0)"},
        {"offset": 0.99453, "color": "rgba(106,106,106,0)"}, {"offset": 0.99661, "color": "#6a6a6a"}, {"offset": 0.99869, "color": "rgba(106,106,106,0)"},
        {"offset": 1, "color": "rgba(106,106,106,0)"}]}},
      "encoding": {"x": {"field": "m", "type": "quantitative", "scale": {"type": "log", "domain": [1e-22, 1e-10], "nice": false}, "axis": null}, "x2": {"field": "m2"}}
    },
    {
      "encoding": {
        "x": {
          "field": "m", "type": "quantitative",
          "scale": {"type": "log", "domain": [1e-22, 1e-10], "nice": false},
          "axis": {
            "orient": "bottom",
            "zindex": 1,
            "values": [1e-22,2e-22,3e-22,4e-22,5e-22,6e-22,7e-22,8e-22,9e-22,1e-21,2e-21,3e-21,4e-21,5e-21,6e-21,7e-21,8e-21,9e-21,1e-20,2e-20,3e-20,4e-20,5e-20,6e-20,7e-20,8e-20,9e-20,1e-19,2e-19,3e-19,4e-19,5e-19,6e-19,7e-19,8e-19,9e-19,1e-18,2e-18,3e-18,4e-18,5e-18,6e-18,7e-18,8e-18,9e-18,1e-17,2e-17,3e-17,4e-17,5e-17,6e-17,7e-17,8e-17,9e-17,1e-16,2e-16,3e-16,4e-16,5e-16,6e-16,7e-16,8e-16,9e-16,1e-15,2e-15,3e-15,4e-15,5e-15,6e-15,7e-15,8e-15,9e-15,1e-14,2e-14,3e-14,4e-14,5e-14,6e-14,7e-14,8e-14,9e-14,1e-13,2e-13,3e-13,4e-13,5e-13,6e-13,7e-13,8e-13,9e-13,1e-12,2e-12,3e-12,4e-12,5e-12,6e-12,7e-12,8e-12,9e-12,1e-11,2e-11,3e-11,4e-11,5e-11,6e-11,7e-11,8e-11,9e-11,1e-10],
            "labelExpr": "abs(log(datum.value)/LN10 - round(log(datum.value)/LN10)) > 0.001 ? '' : round(log(datum.value)/LN10) == -22 ? '10⁻²²' : round(log(datum.value)/LN10) == -20 ? '10⁻²⁰' : round(log(datum.value)/LN10) == -18 ? '10⁻¹⁸' : round(log(datum.value)/LN10) == -16 ? '10⁻¹⁶' : round(log(datum.value)/LN10) == -14 ? '10⁻¹⁴' : round(log(datum.value)/LN10) == -12 ? '10⁻¹²' : round(log(datum.value)/LN10) == -10 ? '10⁻¹⁰' : ''",
            "tickSize": {"condition": {"test": "abs(log(datum.value)/LN10 - round(log(datum.value)/LN10)) < 0.001", "value": 27}, "value": 14},
            "gridOpacity": {"condition": {"test": "abs(log(datum.value)/LN10 - round(log(datum.value)/LN10)) < 0.001 && datum.value > 2e-22 && datum.value < 5e-11", "value": 1}, "value": 0},
            "labelPadding": 18,
            "title": "Vector boson mass mᵥ [eV]",
            "titlePadding": 18
          }
        },
        "y": {
          "field": "g", "type": "quantitative",
          "scale": {"type": "log", "domain": [1e-22, 1e-18], "nice": false},
          "axis": {
            "zindex": 1,
            "values": [1e-22,2e-22,3e-22,4e-22,5e-22,6e-22,7e-22,8e-22,9e-22,1e-21,2e-21,3e-21,4e-21,5e-21,6e-21,7e-21,8e-21,9e-21,1e-20,2e-20,3e-20,4e-20,5e-20,6e-20,7e-20,8e-20,9e-20,1e-19,2e-19,3e-19,4e-19,5e-19,6e-19,7e-19,8e-19,9e-19,1e-18],
            "labelExpr": "abs(log(datum.value)/LN10 - round(log(datum.value)/LN10)) > 0.001 ? '' : round(log(datum.value)/LN10) == -22 ? '10⁻²²' : round(log(datum.value)/LN10) == -21 ? '10⁻²¹' : round(log(datum.value)/LN10) == -20 ? '10⁻²⁰' : round(log(datum.value)/LN10) == -19 ? '10⁻¹⁹' : '10⁻¹⁸'",
            "tickSize": {"condition": {"test": "abs(log(datum.value)/LN10 - round(log(datum.value)/LN10)) < 0.001", "value": 26}, "value": 16},
            "gridOpacity": {"condition": {"test": "abs(log(datum.value)/LN10 - round(log(datum.value)/LN10)) < 0.001 && datum.value > 2e-22 && datum.value < 5e-19", "value": 1}, "value": 0},
            "labelPadding": 30,
            "title": "Gauge coupling g′",
            "titlePadding": 58
          }
        }
      },
      "layer": [
        {
          "data": {"name": "lines"},
          "transform": [{"filter": "datum.family == 'pulsar' && datum.fraction == 'optimistic'"}],
          "mark": {"type": "area", "fill": "#00aec9", "fillOpacity": 0.13, "clip": true},
          "encoding": {"y2": {"datum": 1e-18}}
        },
        {
          "data": {"name": "lines"},
          "transform": [{"filter": "datum.family == 'pulsar'"}],
          "mark": {"type": "line", "clip": true},
          "encoding": {
            "color": {"field": "family", "type": "nominal", "scale": {"domain": ["pulsar", "nsns", "yukawa", "nsbh"], "range": ["#00aec9", "#c8773a", "#6e42c1", "#ffffff"]}, "legend": null},
            "strokeWidth": {"field": "fraction", "type": "ordinal", "scale": {"domain": ["optimistic", "pessimistic"], "range": [7.5, 3.5]},
              "legend": {"title": null, "labelExpr": "datum.label == 'optimistic' ? 'optimistic μ-fraction' : 'pessimisitic μ-fraction'", "symbolStrokeColor": "#8a8a8a"}}
          }
        },
        {
          "data": {"name": "lines"},
          "transform": [{"filter": "datum.family != 'pulsar' && datum.fraction == 'optimistic'"}],
          "mark": {"type": "line", "clip": true, "strokeDash": [28, 12]},
          "encoding": {
            "color": {"field": "family", "type": "nominal", "legend": null},
            "strokeWidth": {"field": "fraction", "type": "ordinal"}
          }
        },
        {
          "data": {"name": "lines"},
          "transform": [{"filter": "datum.family != 'pulsar' && datum.fraction == 'pessimistic'"}],
          "mark": {"type": "line", "clip": true, "strokeDash": [14, 6]},
          "encoding": {
            "color": {"field": "family", "type": "nominal", "legend": null},
            "strokeWidth": {"field": "fraction", "type": "ordinal"}
          }
        },
        {
          "data": {"name": "labels"},
          "mark": {"type": "text", "align": "center", "baseline": "alphabetic", "lineBreak": "\n", "fontSize": 66, "lineHeight": 62},
          "encoding": {
            "text": {"field": "label"},
            "color": {"field": "family", "type": "nominal", "legend": null}
          }
        },
        {
          "data": {"name": "superradiance"},
          "mark": {"type": "text", "angle": 270, "align": "center", "baseline": "middle", "fontSize": 66, "fill": "#9a9a9a"},
          "encoding": {"text": {"field": "label"}}
        },
        {
          "data": {"name": "titlebox"},
          "mark": {"type": "rect", "fill": "#000000", "opacity": 0.5},
          "encoding": {"x2": {"field": "m2"}, "y2": {"field": "g2"}}
        },
        {
          "data": {"name": "title"},
          "mark": {"type": "text", "font": "Liberation Sans", "fontSize": 92, "fill": "#ffffff", "align": "left", "baseline": "alphabetic", "dx": 0},
          "encoding": {"text": {"value": "L"}}
        },
        {
          "data": {"name": "title"},
          "mark": {"type": "text", "font": "Liberation Sans", "fontSize": 58, "fill": "#ffffff", "align": "left", "baseline": "alphabetic", "dx": 49, "dy": 6},
          "encoding": {"text": {"value": "μ"}}
        },
        {
          "data": {"name": "title"},
          "mark": {"type": "text", "font": "Liberation Sans", "fontSize": 92, "fill": "#ffffff", "align": "left", "baseline": "alphabetic", "dx": 83},
          "encoding": {"text": {"value": "–L"}}
        },
        {
          "data": {"name": "title"},
          "mark": {"type": "text", "font": "Liberation Sans", "fontSize": 58, "fill": "#ffffff", "align": "left", "baseline": "alphabetic", "dx": 181, "dy": 6},
          "encoding": {"text": {"value": "τ"}}
        },
        {
          "data": {"name": "title"},
          "mark": {"type": "text", "font": "Liberation Sans", "fontSize": 92, "fill": "#ffffff", "align": "left", "baseline": "alphabetic", "dx": 235},
          "encoding": {"text": {"value": "gauge boson"}}
        }
      ]
    },
    {
      "data": {"name": "bands"},
      "mark": {"type": "point", "opacity": 0},
      "encoding": {
        "x": {
          "field": "m", "type": "quantitative",
          "scale": {"type": "log", "domain": [1e-22, 1e-10], "nice": false},
          "axis": {
            "orient": "top",
            "values": [1.97327e-22, 1.97327e-20, 1.97327e-18, 1.97327e-16, 1.97327e-14, 1.97327e-12],
            "labelExpr": "datum.value < 1e-21 ? '10¹²' : datum.value < 1e-19 ? '10¹⁰' : datum.value < 1e-17 ? '10⁸' : datum.value < 1e-15 ? '10⁶' : datum.value < 1e-13 ? '10⁴' : '10²'",
            "tickSize": 26,
            "grid": false,
            "labelPadding": 25,
            "title": "Wavelength λ [km]",
            "titlePadding": 4
          }
        }
      }
    }
  ],
  "resolve": {"axis": {"x": "independent"}}
}
